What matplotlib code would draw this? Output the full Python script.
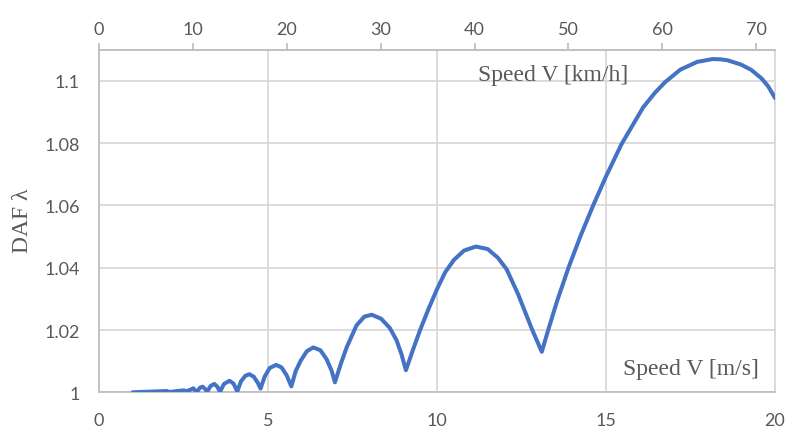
import matplotlib
matplotlib.use('Agg')
from matplotlib import pyplot as plt
from matplotlib.ticker import FuncFormatter

# speed in m/s and dynamic amplification factor
speed = [1.0, 1.5, 2.0, 2.1, 2.3, 2.5, 2.6, 2.7, 2.79, 2.89,
         2.98, 3.06, 3.13, 3.2, 3.3, 3.41, 3.5, 3.58,
         3.7, 3.86, 3.98, 4.09, 4.2, 4.33, 4.45, 4.58, 4.7, 4.78,
         4.9, 5.05, 5.24, 5.4, 5.55, 5.69,
         5.82, 5.97, 6.15, 6.34, 6.55, 6.73, 6.88, 6.98,
         7.15, 7.33, 7.62, 7.85, 8.07, 8.35, 8.6, 8.8, 8.95, 9.08,
         9.3, 9.5, 9.75, 10.0, 10.24, 10.5, 10.8, 11.15, 11.5, 11.8, 12.06, 12.4, 12.8, 13.1,
         13.29, 13.55, 13.89, 14.25, 14.62, 15.0, 15.46, 16.1, 16.45, 16.75, 17.2, 17.7, 18.16,
         18.4, 18.6, 19.0, 19.3, 19.6, 19.8, 20.0]
daf = [1.0000, 1.0002, 1.0004, 1.0001, 1.0004, 1.0006, 1.0004, 1.0008, 1.0013, 1.0000,
       1.0014, 1.0018, 1.0012, 1.0002, 1.0020, 1.0027, 1.0018, 1.0002,
       1.0027, 1.0037, 1.0028, 1.0003, 1.0035, 1.0053, 1.0058, 1.0050, 1.0030, 1.0012,
       1.0050, 1.0078, 1.0088, 1.0080, 1.0055, 1.0019,
       1.0068, 1.0102, 1.0132, 1.0144, 1.0135, 1.0107, 1.0070, 1.0032,
       1.0090, 1.0145, 1.0215, 1.0243, 1.0249, 1.0236, 1.0207, 1.0168, 1.0122, 1.0071,
       1.0140, 1.0200, 1.0268, 1.0331, 1.0385, 1.0425, 1.0455, 1.0468, 1.0460, 1.0432, 1.0395, 1.0315, 1.0205, 1.0130,
       1.0200, 1.0292, 1.0400, 1.0503, 1.0600, 1.0693, 1.0797, 1.0915, 1.0962, 1.0996, 1.1036, 1.1061, 1.1070,
       1.1069, 1.1066, 1.1052, 1.1035, 1.1008, 1.0982, 1.0945]

x_ticks = [0, 5, 10, 15, 20]
kmh_ticks = [0, 10, 20, 30, 40, 50, 60, 70]
y_ticks = [1.0, 1.02, 1.04, 1.06, 1.08, 1.1]

grid_c = '#D9D9D9'
axis_c = '#BFBFBF'
text_c = '#595959'
serif = ['Liberation Serif', 'DejaVu Serif']

fig = plt.figure(figsize=(7.88, 4.31), dpi=100)
ax = fig.add_axes([99 / 788, 1 - 393.3 / 431, 676 / 788, 342.6 / 431])

ax.plot(speed, daf, color='#4472C4', linewidth=2.9, solid_joinstyle='round',
        solid_capstyle='round', zorder=3)

ax.set_xlim(0, 20)
ax.set_ylim(1.0, 1.11)
ax.set_xticks(x_ticks)
ax.set_yticks(y_ticks)
ax.yaxis.set_major_formatter(FuncFormatter(lambda v, p: f'{v:g}'))
ax.grid(True, color=grid_c, linewidth=1.3, zorder=0)
ax.tick_params(length=0, labelsize=13, labelcolor=text_c)
ax.tick_params(axis='x', pad=14)
ax.tick_params(axis='y', pad=14)
for lab in ax.get_xticklabels() + ax.get_yticklabels():
    lab.set_family('Lato')

for s in ['left', 'bottom']:
    ax.spines[s].set_color(axis_c)
    ax.spines[s].set_linewidth(1.3)
for s in ['right', 'top']:
    ax.spines[s].set_color(grid_c)
    ax.spines[s].set_linewidth(1.3)

# secondary axis on top in km/h
ax2 = ax.twiny()
ax2.set_xlim(0, 72)
ax2.set_xticks(kmh_ticks)
ax2.tick_params(axis='x', direction='out', length=5, width=1.3, color=axis_c,
                labelsize=13, labelcolor=text_c, pad=4)
for lab in ax2.get_xticklabels():
    lab.set_family('Lato')
for s in ['left', 'right', 'bottom']:
    ax2.spines[s].set_visible(False)
ax2.spines['top'].set_color(axis_c)
ax2.spines['top'].set_linewidth(1.3)

fig.text(478 / 788, 1 - 75 / 431, 'Speed V [km/h]', family=serif, fontsize=17,
         color=text_c, ha='left', va='center')
fig.text(759 / 788, 1 - 370 / 431, 'Speed V [m/s]', family=serif, fontsize=17,
         color=text_c, ha='right', va='center')
fig.text(22 / 788, 1 - 221 / 431, 'DAF λ', family=serif, fontsize=17,
         color=text_c, ha='center', va='center', rotation=90)

plt.savefig('out.png', dpi=100)
